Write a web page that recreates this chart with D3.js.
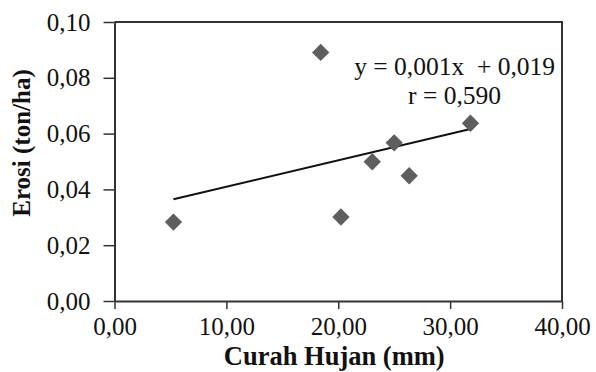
<!DOCTYPE html>
<html>
<head>
<meta charset="utf-8">
<script src="https://cdn.jsdelivr.net/npm/d3@7"></script>
<style>
  body { margin: 0; background: #fff; }
  text { font-family: "Liberation Serif", "Times New Roman", serif; fill: #111; }
</style>
</head>
<body>
<div id="viz"></div>
<script>
// data
var curahHujan = [5.27, 18.43, 20.24, 23.04, 25.0, 26.34, 31.82];
var erosi = [0.0283, 0.0891, 0.0301, 0.0499, 0.0567, 0.0449, 0.0637];
var xTicks = [0, 10, 20, 30, 40];
var yTicks = [0, 0.02, 0.04, 0.06, 0.08, 0.10];
var eqLines = ["y = 0,001x  + 0,019", "r = 0,590"];

var margin = {top: 22, right: 34, bottom: 71, left: 114.5},
    width = 596 - margin.left - margin.right,
    height = 372 - margin.top - margin.bottom;

var svg = d3.select("#viz")
  .append("svg")
    .attr("width", 596)
    .attr("height", 372)
  .append("g")
    .attr("transform", "translate(" + margin.left + "," + margin.top + ")");

var x = d3.scaleLinear().domain([0, 40]).range([0, width]);
var y = d3.scaleLinear().domain([0, 0.10]).range([height, 0]);

var fmt = function(d) { return d3.format(".2f")(d).replace(".", ","); };

// frame (top and right)
svg.append("path")
    .attr("d", "M0,0H" + width + "V" + height)
    .attr("fill", "none")
    .attr("stroke", "#333")
    .attr("stroke-width", 2);

var xAxis = svg.append("g")
    .attr("transform", "translate(0," + height + ")")
    .call(d3.axisBottom(x).tickValues(xTicks).tickFormat(fmt).tickSize(8).tickPadding(8).tickSizeOuter(0));

var yAxis = svg.append("g")
    .call(d3.axisLeft(y).tickValues(yTicks).tickFormat(fmt).tickSize(11).tickPadding(13).tickSizeOuter(0));

[xAxis, yAxis].forEach(function(a) {
  a.select(".domain").attr("stroke", "#333").attr("stroke-width", 2);
  a.selectAll(".tick line").attr("stroke", "#333").attr("stroke-width", 1.5);
  a.selectAll(".tick text")
    .attr("fill", "#111")
    .style("font-family", "'Liberation Serif', serif")
    .style("font-size", "25px");
});

// trend line from least squares fit
var mx = d3.mean(curahHujan), my = d3.mean(erosi);
var sxy = d3.sum(curahHujan, function(v, i) { return (v - mx) * (erosi[i] - my); });
var sxx = d3.sum(curahHujan, function(v) { return (v - mx) * (v - mx); });
var slope = sxy / sxx, icpt = my - slope * mx;
var xEnds = d3.extent(curahHujan);

svg.append("path")
    .datum(xEnds)
    .attr("d", d3.line()
      .x(function(d) { return x(d); })
      .y(function(d) { return y(icpt + slope * d); }))
    .attr("stroke", "#111")
    .attr("stroke-width", 2)
    .attr("fill", "none");

// diamond points
svg.selectAll(".pt")
  .data(curahHujan)
  .enter()
  .append("path")
    .attr("class", "pt")
    .attr("d", d3.symbol().type(d3.symbolSquare).size(150))
    .attr("transform", function(d, i) { return "translate(" + x(d) + "," + y(erosi[i]) + ") rotate(45)"; })
    .attr("fill", "#5e5e5e");

// regression text
svg.append("g")
  .selectAll("text")
  .data(eqLines)
  .enter()
  .append("text")
    .attr("x", x(30.4))
    .attr("y", function(d, i) { return 53 + i * 29; })
    .attr("text-anchor", "middle")
    .style("font-size", "25.5px")
    .text(function(d) { return d; })
    .attr("xml:space", "preserve");

// axis titles
svg.append("text")
    .attr("x", width / 2 - 4)
    .attr("y", height + 64)
    .attr("text-anchor", "middle")
    .style("font-size", "26.5px")
    .style("font-weight", "bold")
    .text("Curah Hujan (mm)");

svg.append("text")
    .attr("transform", "translate(" + (-margin.left + 30) + "," + 121 + ") rotate(-90)")
    .attr("text-anchor", "middle")
    .style("font-size", "25px")
    .style("font-weight", "bold")
    .text("Erosi (ton/ha)");
</script>
</body>
</html>
